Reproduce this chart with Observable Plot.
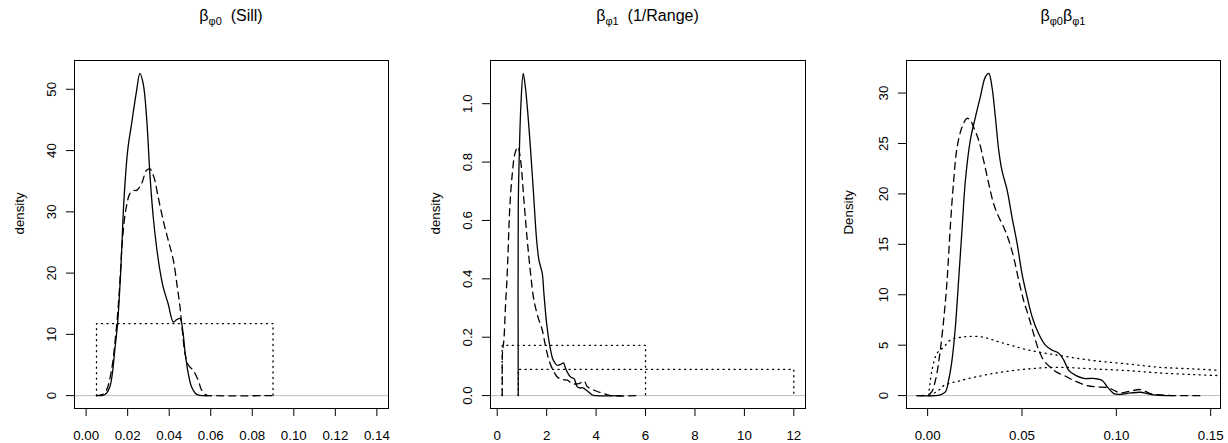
<!DOCTYPE html>
<html><head><meta charset="utf-8">
<script src="https://cdn.jsdelivr.net/npm/d3@7"></script>
<script src="https://cdn.jsdelivr.net/npm/@observablehq/plot@0.6"></script>
<style>
body{margin:0;background:#fff;font-family:"Liberation Sans",Arial,Helvetica,sans-serif;}
#wrap{position:relative;width:1228px;height:443px;overflow:hidden;}
.panel{position:absolute;top:0;}
.title{position:absolute;top:6px;font-size:16px;white-space:pre;transform:translateX(-50%);line-height:20px;color:#000;}
.title sub{font-size:11px;vertical-align:-4px;line-height:0;}
</style></head><body><div id="wrap"></div><script>
// ---------- data ----------
const titles = [["β", "φ0", "  (Sill)"], ["β", "φ1", "  (1/Range)"], ["β", "φ0", "β", "φ1"]];
const yLabels = ["density", "density", "Density"];

const xTicks1 = [0, 0.02, 0.04, 0.06, 0.08, 0.10, 0.12, 0.14];
const yTicks1 = [0, 10, 20, 30, 40, 50];
const xTicks2 = [0, 2, 4, 6, 8, 10, 12];
const yTicks2 = [0, 0.2, 0.4, 0.6, 0.8, 1.0];
const xTicks3 = [0, 0.05, 0.10, 0.15];
const yTicks3 = [0, 5, 10, 15, 20, 25, 30];

// Panel 1: sill
const sillSolid = [[0.005,0],[0.008,0.05],[0.0098,0.4],[0.0114,1.4],[0.0126,3.5],[0.0138,7.4],[0.015,11.2],[0.0158,15],[0.0166,19.9],[0.0174,26],[0.0182,31.9],[0.02,40],[0.0219,44.4],[0.0243,49.8],[0.0259,52.6],[0.0275,50.9],[0.0291,45.5],[0.0307,36.2],[0.0323,29.2],[0.0339,24.3],[0.0355,20.5],[0.0371,17.7],[0.0395,15],[0.042,12.0],[0.0436,12.4],[0.0452,12.6],[0.0465,10.7],[0.0477,6.9],[0.0492,3.6],[0.0508,1.4],[0.0532,0.2],[0.0564,0],[0.06,0]];
const sillDashed = [[0.005,0],[0.008,0.2],[0.0098,0.9],[0.0122,4.1],[0.0143,10.1],[0.0159,16.6],[0.0175,25.4],[0.0191,30.3],[0.0211,33],[0.0227,33.5],[0.0243,33.5],[0.0267,34.6],[0.0291,36.8],[0.0307,37],[0.0326,35.7],[0.0347,32.4],[0.0371,28.6],[0.0395,25.4],[0.042,22.1],[0.0439,17.7],[0.0452,14.5],[0.0463,10.7],[0.0476,6.9],[0.0492,5.0],[0.0516,4.1],[0.054,2.5],[0.0556,0.9],[0.058,0.1],[0.062,0],[0.09,0]];
const sillPrior = [[0.005,0],[0.005,11.76],[0.09,11.76],[0.09,0]];

// Panel 2: 1/range
const rangeSolid = [[0.851,0],[0.851,0.646],[0.9,0.85],[0.96,1.0],[1.05,1.104],[1.12,1.07],[1.216,0.989],[1.351,0.84],[1.486,0.669],[1.595,0.532],[1.69,0.463],[1.76,0.44],[1.824,0.418],[1.89,0.349],[2.0,0.247],[2.135,0.167],[2.27,0.121],[2.43,0.104],[2.57,0.107],[2.68,0.112],[2.77,0.092],[2.905,0.070],[3.0,0.062],[3.108,0.058],[3.24,0.030],[3.35,0.026],[3.446,0.027],[3.65,0.016],[3.85,0.002],[3.99,0],[5,0]];
const rangeDashed = [[0.203,0],[0.203,0.05],[0.215,0.15],[0.27,0.19],[0.33,0.3],[0.405,0.418],[0.51,0.646],[0.61,0.76],[0.716,0.829],[0.838,0.852],[0.946,0.806],[1.08,0.669],[1.216,0.532],[1.35,0.418],[1.486,0.326],[1.65,0.269],[1.824,0.224],[1.96,0.167],[2.095,0.121],[2.23,0.092],[2.43,0.064],[2.635,0.055],[2.84,0.053],[3.04,0.041],[3.31,0.041],[3.51,0.050],[3.65,0.030],[3.85,0.021],[4.05,0.014],[4.32,0.007],[4.59,0],[5.7,0]];
const rangePriorA = [[0.2,0],[0.2,0.1724],[6,0.1724],[6,0]];
const rangePriorB = [[0.85,0],[0.85,0.0897],[12,0.0897],[12,0]];

// Panel 3: product
const prodSolid = [[-0.0057,0],[0.0067,0.07],[0.0094,0.36],[0.0111,1.5],[0.0129,3.5],[0.0147,6.8],[0.0164,11.4],[0.0182,16.4],[0.02,21.3],[0.0226,25.3],[0.0253,27.6],[0.0279,29.6],[0.0306,31.6],[0.0324,31.95],[0.0341,30.6],[0.0359,27.6],[0.0377,24.3],[0.0394,22.3],[0.0421,20.4],[0.0447,17.7],[0.0474,15.1],[0.05,12.1],[0.0527,9.8],[0.0554,7.8],[0.0589,6.1],[0.0624,5.0],[0.066,4.5],[0.0695,4.2],[0.0722,3.5],[0.0748,2.5],[0.0784,2.0],[0.0828,1.7],[0.0881,1.7],[0.0925,1.5],[0.0952,0.86],[0.0987,0.2],[0.1022,0.13],[0.1075,0.26],[0.1128,0.33],[0.1164,0.2],[0.12,0.07],[0.127,0],[0.13,0]];
const prodDashed = [[-0.0057,0],[0.0014,0.2],[0.0041,1.5],[0.0067,4.5],[0.0088,8.1],[0.0103,11.4],[0.012,16.7],[0.0138,21.3],[0.0156,24.6],[0.0182,26.6],[0.0209,27.5],[0.0226,27.3],[0.0244,26.6],[0.0271,25.3],[0.0297,23.3],[0.0324,21.0],[0.035,19.0],[0.0377,17.7],[0.0403,16.7],[0.043,15.4],[0.0456,13.7],[0.0483,11.4],[0.0509,9.4],[0.0536,7.8],[0.0562,6.1],[0.0589,4.5],[0.0615,3.5],[0.0651,2.8],[0.0686,2.3],[0.0722,2.0],[0.0775,1.5],[0.0845,1.0],[0.0898,0.86],[0.0952,0.8],[0.0987,0.53],[0.1022,0.26],[0.1075,0.46],[0.1128,0.6],[0.1181,0.2],[0.1235,0.07],[0.13,0],[0.146,0]];
const prodPriorA = [[0.0005,0],[0.0023,2.5],[0.005,4.2],[0.0085,4.8],[0.012,5.5],[0.0174,5.78],[0.028,5.84],[0.0386,5.28],[0.0528,4.55],[0.0704,3.96],[0.0881,3.47],[0.1058,3.14],[0.1235,2.8],[0.1412,2.64],[0.1535,2.52]];
const prodPriorB = [[0.001,0],[0.004,0.3],[0.0067,0.65],[0.0085,0.99],[0.0174,1.49],[0.035,2.2],[0.0528,2.64],[0.0704,2.8],[0.0881,2.64],[0.1058,2.48],[0.1235,2.24],[0.1412,2.08],[0.1535,1.99]];

// ---------- drawing ----------
const wrap = document.getElementById("wrap");
const FONT = "Liberation Sans, Arial, Helvetica, sans-serif";

function panel(cfg) {
  const lineOpts = {x: d => d[0], y: d => d[1], stroke: "black", strokeWidth: 1.3};
  const chart = Plot.plot({
    width: cfg.width, height: 443,
    marginLeft: cfg.ml, marginRight: cfg.mr, marginTop: 60, marginBottom: 35,
    style: {fontFamily: FONT, fontSize: "13.3px", background: "white", color: "black", overflow: "visible"},
    x: {domain: cfg.xDomain},
    y: {domain: cfg.yDomain},
    marks: [
      Plot.ruleY([0], {stroke: "#bebebe", strokeWidth: 1}),
      ...cfg.dotted.map(s => Plot.line(s, {...lineOpts, strokeWidth: 1.3, strokeDasharray: "1.1,4.4", curve: cfg.dottedCurve || "linear"})),
      Plot.line(cfg.dashed, {...lineOpts, strokeDasharray: "7,5", curve: "catmull-rom"}),
      Plot.line(cfg.solid, {...lineOpts, curve: "catmull-rom"}),
      Plot.frame({stroke: "black", strokeWidth: 1}),
      Plot.axisX({ticks: cfg.xTicks, tickFormat: cfg.xFmt, tickSize: 8, tickPadding: 14, label: null}),
      Plot.axisY({ticks: cfg.yTicks, tickFormat: cfg.yFmt, tickSize: 8, tickPadding: 11, tickRotate: -90, label: null}),
      Plot.text([cfg.ylabel], {frameAnchor: "left", dx: cfg.ylabelDx, rotate: -90, text: d => d, fontSize: 13.3})
    ]
  });
  const div = document.createElement("div");
  div.className = "panel";
  div.style.left = cfg.left + "px";
  div.appendChild(chart);
  wrap.appendChild(div);

  const t = document.createElement("div");
  t.className = "title";
  t.style.left = cfg.titleX + "px";
  const parts = cfg.title;
  let html = "";
  for (let i = 0; i < parts.length; i++) {
    html += (i % 2 === 1) ? "<sub>" + parts[i] + "</sub>" : parts[i];
  }
  t.innerHTML = html;
  wrap.appendChild(t);
}

panel({left: 0, width: 410, ml: 74, mr: 22, xDomain: [-0.0056, 0.1456], yDomain: [-2.1, 54.7],
  xTicks: xTicks1, xFmt: d3.format(".2f"), yTicks: yTicks1, yFmt: d3.format("d"),
  solid: sillSolid, dashed: sillDashed, dotted: [sillPrior], ylabel: yLabels[0], ylabelDx: -55,
  title: titles[0], titleX: 231});

panel({left: 410, width: 410, ml: 80, mr: 15, xDomain: [-0.272, 12.472], yDomain: [-0.0442, 1.148],
  xTicks: xTicks2, xFmt: d3.format("d"), yTicks: yTicks2, yFmt: d3.format(".1f"),
  solid: rangeSolid, dashed: rangeDashed, dotted: [rangePriorA, rangePriorB], ylabel: yLabels[1], ylabelDx: -55,
  title: titles[1], titleX: 647.5});

panel({left: 820, width: 408, ml: 86, mr: 8, xDomain: [-0.0112, 0.1552], yDomain: [-1.28, 33.23],
  xTicks: xTicks3, xFmt: d3.format(".2f"), yTicks: yTicks3, yFmt: d3.format("d"),
  solid: prodSolid, dashed: prodDashed, dotted: [prodPriorA, prodPriorB], dottedCurve: "catmull-rom", ylabel: yLabels[2], ylabelDx: -58,
  title: titles[2], titleX: 1063});
</script></body></html>
